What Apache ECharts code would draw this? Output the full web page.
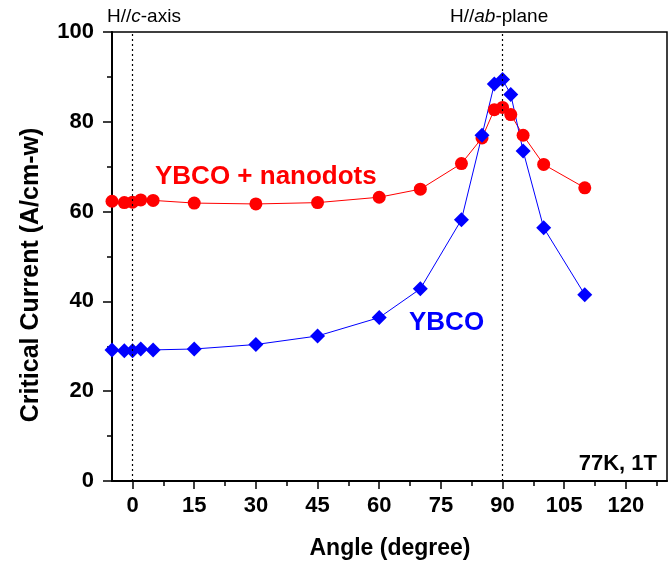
<!DOCTYPE html>
<html>
<head>
<meta charset="utf-8">
<script src="https://cdn.jsdelivr.net/npm/echarts@6/dist/echarts.min.js"></script>
<style>
html,body{margin:0;padding:0;background:#fff;}
#chart{width:669px;height:562px;}
</style>
</head>
<body>
<div id="chart"></div>
<script>
// Data
const ybcoAngles = [-5, -2, 0, 2, 5, 15, 30, 45, 60, 70, 80, 85, 88, 90, 92, 95, 100, 110];
const ybcoValues = [29.2, 29.0, 29.0, 29.4, 29.2, 29.4, 30.4, 32.3, 36.4, 42.8, 58.2, 77.0, 88.4, 89.4, 86.1, 73.5, 56.4, 41.5];
const nanoAngles = [-5, -2, 0, 2, 5, 15, 30, 45, 60, 70, 80, 85, 88, 90, 92, 95, 100, 110];
const nanoValues = [62.3, 62.0, 62.1, 62.6, 62.5, 61.9, 61.7, 62.0, 63.2, 65.0, 70.7, 76.4, 82.7, 83.2, 81.6, 77.0, 70.5, 65.3];
const xTicks = [0, 15, 30, 45, 60, 75, 90, 105, 120];
const xMinorTicks = [7.5, 22.5, 37.5, 52.5, 67.5, 82.5, 97.5, 112.5, 127.5];
const yTicks = [0, 20, 40, 60, 80, 100];
const refLines = [0, 90];

const FONT = '"Liberation Sans", Arial, sans-serif';
const chart = echarts.init(document.getElementById('chart'), null, {renderer: 'canvas'});

const pair = (xs, ys) => xs.map((x, i) => [x, ys[i]]);

chart.setOption({
  animation: false,
  backgroundColor: '#fff',
  grid: {left: 112, right: 2, top: 32, bottom: 81, show: true, borderColor: '#000', borderWidth: 1.5, backgroundColor: 'transparent'},
  xAxis: [{
    type: 'value', min: -5, max: 130,
    axisLine: {show: true, onZero: false, lineStyle: {color: '#000', width: 2}},
    axisTick: {show: true, inside: false, length: 8, lineStyle: {color: '#000', width: 1.5},
      customValues: xTicks},
    minorTick: {show: false},
    axisLabel: {color: '#000', fontFamily: FONT, fontWeight: 'bold', fontSize: 22, margin: 14,
      customValues: xTicks},
    splitLine: {show: false}
  }, {
    type: 'value', min: -5, max: 130, position: 'bottom',
    axisLine: {show: false, onZero: false},
    axisTick: {show: true, inside: false, length: 5, lineStyle: {color: '#000', width: 1.5},
      customValues: xMinorTicks},
    axisLabel: {show: false, customValues: xMinorTicks},
    splitLine: {show: false}
  }],
  yAxis: {
    type: 'value', min: 0, max: 100, interval: 20,
    axisLine: {show: true, onZero: false, lineStyle: {color: '#000', width: 2}},
    axisTick: {show: true, inside: false, length: 9, lineStyle: {color: '#000', width: 1.5}},
    minorTick: {show: true, splitNumber: 2, length: 5, lineStyle: {color: '#000', width: 1.5}},
    axisLabel: {color: '#000', fontFamily: FONT, fontWeight: 'bold', fontSize: 22, margin: 18},
    splitLine: {show: false}
  },
  series: [
    {
      name: 'YBCO + nanodots', type: 'line', data: pair(nanoAngles, nanoValues),
      symbol: 'circle', symbolSize: 13, clip: false,
      lineStyle: {color: '#ff0000', width: 1},
      itemStyle: {color: '#ff0000'},
      markLine: {
        silent: true, symbol: ['none', 'none'],
        label: {show: false},
        lineStyle: {color: '#000', type: [2, 3], width: 1.2},
        data: refLines.map(v => ({xAxis: v}))
      }
    },
    {
      name: 'YBCO', type: 'line', data: pair(ybcoAngles, ybcoValues),
      symbol: 'diamond', symbolSize: 15, clip: false,
      lineStyle: {color: '#0000ff', width: 1},
      itemStyle: {color: '#0000ff'}
    }
  ],
  graphic: [
    {type: 'text', x: 107, y: 17, style: {
      text: '{n|H//}{i|c}{n|-axis}', fill: '#000', textVerticalAlign: 'middle',
      rich: {n: {fontFamily: FONT, fontSize: 19, fill: '#000'}, i: {fontFamily: FONT, fontSize: 19, fontStyle: 'italic', fill: '#000'}}
    }},
    {type: 'text', x: 450, y: 17, style: {
      text: '{n|H//}{i|ab}{n|-plane}', fill: '#000', textVerticalAlign: 'middle',
      rich: {n: {fontFamily: FONT, fontSize: 19, fill: '#000'}, i: {fontFamily: FONT, fontSize: 19, fontStyle: 'italic', fill: '#000'}}
    }},
    {type: 'text', x: 155, y: 177, style: {text: 'YBCO + nanodots', fill: '#ff0000', font: 'bold 26px ' + FONT, textVerticalAlign: 'middle'}},
    {type: 'text', x: 409, y: 323, style: {text: 'YBCO', fill: '#0000ff', font: 'bold 26px ' + FONT, textVerticalAlign: 'middle'}},
    {type: 'text', x: 657, y: 464, style: {text: '77K, 1T', fill: '#000', font: 'bold 22px ' + FONT, textAlign: 'right', textVerticalAlign: 'middle'}},
    {type: 'text', x: 390, y: 549, style: {text: 'Angle (degree)', fill: '#000', font: 'bold 23px ' + FONT, textAlign: 'center', textVerticalAlign: 'middle'}},
    {type: 'text', x: 31, y: 275, rotation: Math.PI / 2, style: {text: 'Critical Current (A/cm-w)', fill: '#000', font: 'bold 25px ' + FONT, textAlign: 'center', textVerticalAlign: 'middle'}}
  ]
});
</script>
</body>
</html>
